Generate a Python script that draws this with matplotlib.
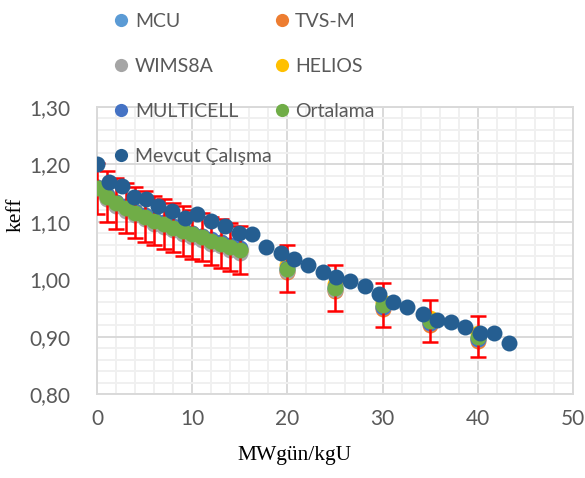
import numpy as np
import matplotlib
matplotlib.use("Agg")
import matplotlib.pyplot as plt
from matplotlib.lines import Line2D

# --- data ---
x_ref = [0, 1, 2, 3, 4, 5, 6, 7, 8, 9, 10, 11, 12, 13, 14, 15, 20, 25, 30, 35, 40]
ortalama = [1.158, 1.144, 1.132, 1.124, 1.116, 1.109, 1.102, 1.096, 1.090, 1.084,
            1.078, 1.073, 1.067, 1.062, 1.056, 1.051, 1.018, 0.985, 0.955, 0.927, 0.900]
ort_err = [0.045, 0.045, 0.044, 0.044, 0.044, 0.044, 0.043, 0.043, 0.043, 0.043,
           0.043, 0.042, 0.042, 0.042, 0.042, 0.042, 0.041, 0.040, 0.038, 0.037, 0.036]
mcu = [1.157, 1.143, 1.131, 1.123, 1.115, 1.108, 1.101, 1.095, 1.089, 1.083,
       1.077, 1.072, 1.066, 1.061, 1.055, 1.050, 1.016, 0.983, 0.952, 0.924, 0.897]
tvsm = [1.156, 1.142, 1.130, 1.122, 1.114, 1.107, 1.100, 1.094, 1.088, 1.082,
        1.076, 1.071, 1.065, 1.060, 1.054, 1.049, 1.013, 0.979, 0.948, 0.920, 0.892]
wims8a = [1.153, 1.139, 1.127, 1.119, 1.111, 1.104, 1.097, 1.091, 1.085, 1.079,
          1.073, 1.068, 1.062, 1.057, 1.051, 1.046, 1.014, 0.982, 0.951, 0.923, 0.896]
helios = [1.160, 1.146, 1.134, 1.126, 1.118, 1.111, 1.104, 1.098, 1.092, 1.086,
          1.080, 1.075, 1.069, 1.064, 1.058, 1.053, 1.024, 0.991, 0.961, 0.933, 0.906]
multicell = [1.161, 1.147, 1.135, 1.127, 1.119, 1.112, 1.105, 1.099, 1.093, 1.087,
             1.081, 1.076, 1.070, 1.065, 1.059, 1.054, 1.020, 0.986, 0.952, 0.924, 0.896]

x_mevcut = [0, 1.3, 2.6, 3.9, 5.15, 6.45, 7.85, 9.25, 10.55, 12.0, 13.4, 14.9, 16.3,
            17.75, 19.3, 20.7, 22.2, 23.7, 25.15, 26.6, 28.15, 29.65, 31.1, 32.6,
            34.2, 35.7, 37.15, 38.65, 40.2, 41.7, 43.25]
mevcut = [1.200, 1.169, 1.163, 1.144, 1.139, 1.128, 1.118, 1.106, 1.114, 1.102,
          1.093, 1.080, 1.078, 1.056, 1.045, 1.035, 1.025, 1.013, 1.004, 0.996,
          0.988, 0.974, 0.961, 0.952, 0.939, 0.929, 0.925, 0.917, 0.906, 0.906, 0.889]

TXT = "#595959"
SANS = ["Lato", "DejaVu Sans"]
SERIF = ["Liberation Serif", "DejaVu Serif"]

fig = plt.figure(figsize=(5.85, 4.78), dpi=100)
ax = fig.add_axes([0.1658, 0.1757, 0.8137, 0.6005])

ms = 11.5
series = [
    (mcu, "MCU", "#5B9BD5"),
    (tvsm, "TVS-M", "#ED7D31"),
    (wims8a, "WIMS8A", "#A5A5A5"),
    (helios, "HELIOS", "#FFC000"),
    (multicell, "MULTICELL", "#4472C4"),
]
for vals, label, color in series:
    ax.plot(x_ref, vals, "o", ms=ms, color=color, mec="none", zorder=3)

ax.errorbar(x_ref, ortalama, yerr=ort_err, fmt="none", ecolor="#FF0000",
            elinewidth=1.8, capsize=6, capthick=1.8, zorder=3.5)
ax.plot(x_ref, ortalama, "o", ms=ms, color="#70AD47", mec="none", zorder=4)
ax.plot(x_mevcut, mevcut, "o", ms=ms, color="#255E91", mec="none", zorder=5)

ax.set_xlim(0, 50)
ax.set_ylim(0.80, 1.30)
ax.set_xticks(np.arange(0, 51, 10))
ax.set_yticks(np.arange(0.80, 1.301, 0.10))
ax.set_xticks(np.arange(0, 51, 2), minor=True)
ax.set_yticks(np.arange(0.80, 1.301, 0.02), minor=True)
ax.set_yticklabels([f"{v:.2f}".replace(".", ",") for v in np.arange(0.80, 1.301, 0.10)])
ax.grid(which="major", color="#D9D9D9", lw=1.4, zorder=0)
ax.grid(which="minor", color="#F0F0F0", lw=1.4, zorder=0)
ax.set_axisbelow(True)
ax.tick_params(which="both", length=0, colors=TXT, labelsize=15)
ax.tick_params(axis="x", pad=11)
ax.tick_params(axis="y", pad=19)
for lab in ax.get_xticklabels() + ax.get_yticklabels():
    lab.set_family(SANS)
for s in ax.spines.values():
    s.set_color("#D9D9D9")
    s.set_linewidth(1.4)

ax.set_xlabel("MWgün/kgU", family=SERIF, fontsize=15.5, color="black")
ax.set_ylabel("keff", family=SERIF, fontsize=15.5, color="black")
# label centres as in the reference (pixels -> axes fraction)
ax.xaxis.set_label_coords((295 - 97) / 476, -(455 - 394) / 287)
ax.yaxis.set_label_coords(-(97 - 16) / 476, (394 - 215) / 287)
ax.xaxis.label.set_va("center")
ax.yaxis.label.set_va("center")

def handle(color):
    return Line2D([], [], ls="none", marker="o", ms=9.5, color=color, mec="none")

order = [("MCU", "#5B9BD5"), ("WIMS8A", "#A5A5A5"), ("MULTICELL", "#4472C4"),
         ("Mevcut Çalışma", "#255E91"), ("TVS-M", "#ED7D31"), ("HELIOS", "#FFC000"),
         ("Ortalama", "#70AD47")]
leg = fig.legend([handle(c) for _, c in order], [n for n, _ in order],
                 ncol=2, loc="upper left", bbox_to_anchor=(0.181, 0.99),
                 frameon=False, handlelength=0.8, handletextpad=0.3,
                 columnspacing=0.1, labelspacing=1.45, borderaxespad=0,
                 prop={"family": SANS, "size": 14})
for t in leg.get_texts():
    t.set_color(TXT)
leg.set_zorder(10)

fig.savefig("out.png", dpi=100)
